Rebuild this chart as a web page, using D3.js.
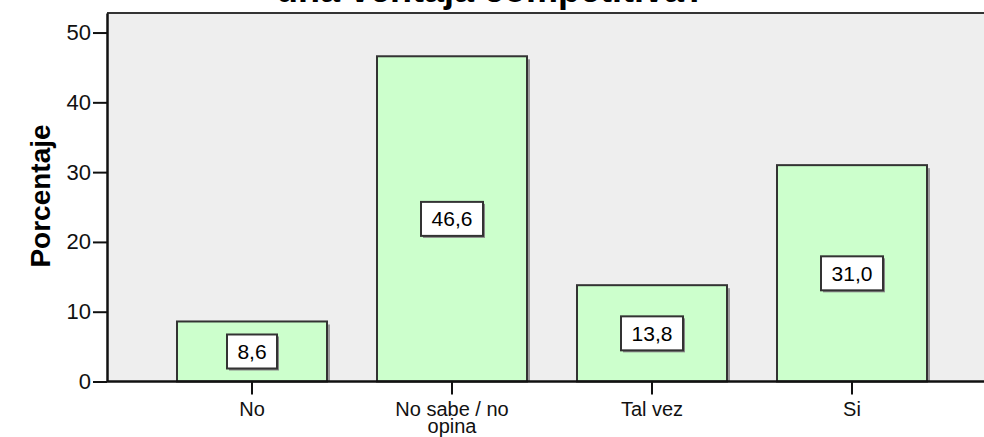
<!DOCTYPE html>
<html>
<head>
<meta charset="utf-8">
<script src="https://cdn.jsdelivr.net/npm/d3@7"></script>
<style>
  body { margin: 0; background: #fff; }
  text { font-family: "Liberation Sans", Arial, sans-serif; }
</style>
</head>
<body>
<div id="chart"></div>
<script>
// data
const categories = ["No", "No sabe / no opina", "Tal vez", "Si"];
const percentages = [8.6, 46.6, 13.8, 31.0];
const yTicks = [0, 10, 20, 30, 40, 50];

const width = 984, height = 437;
const plotLeft = 107, plotTop = 13, plotBottom = 381.5;

const svg = d3.select("#chart").append("svg")
    .attr("width", width)
    .attr("height", height);

const x = d3.scaleBand()
    .domain(categories)
    .range([152, 952])
    .paddingInner(0.25)
    .paddingOuter(0.125);

const y = d3.scaleLinear()
    .domain([0, 52.8])
    .range([plotBottom, plotTop]);

// title, mostly cut off at the top
svg.append("text")
    .attr("x", 491)
    .attr("y", 1.5)
    .attr("text-anchor", "middle")
    .attr("font-size", 36)
    .attr("font-weight", "bold")
    .text("una ventaja competitiva?");

// plot background
svg.append("rect")
    .attr("x", plotLeft)
    .attr("y", plotTop)
    .attr("width", width - plotLeft + 10)
    .attr("height", plotBottom - plotTop)
    .attr("fill", "#eeeeee");

svg.append("line")
    .attr("x1", plotLeft).attr("x2", width)
    .attr("y1", plotTop).attr("y2", plotTop)
    .attr("stroke", "#333").attr("stroke-width", 2);

// bar shadows
svg.selectAll(".shadow")
    .data(percentages)
    .join("rect")
    .attr("class", "shadow")
    .attr("x", (d, i) => x(categories[i]) + 3)
    .attr("y", d => y(d) + 3)
    .attr("width", x.bandwidth())
    .attr("height", d => y(0) - y(d) - 3)
    .attr("fill", "#999");

// bars
svg.selectAll(".bar")
    .data(percentages)
    .join("rect")
    .attr("class", "bar")
    .attr("x", (d, i) => x(categories[i]))
    .attr("y", d => y(d))
    .attr("width", x.bandwidth())
    .attr("height", d => y(0) - y(d))
    .attr("fill", "#ccffcc")
    .attr("stroke", "#333")
    .attr("stroke-width", 2);

// value labels in boxes
const fmt = d => d.toFixed(1).replace(".", ",");
const labels = svg.selectAll(".vlabel")
    .data(percentages)
    .join("g")
    .attr("class", "vlabel")
    .attr("transform", (d, i) => `translate(${x(categories[i]) + x.bandwidth() / 2},${(y(d) + y(0)) / 2})`);

labels.each(function (d) {
    const g = d3.select(this);
    const w = fmt(d).length * 12 + 14;
    g.append("rect")
        .attr("x", -w / 2 + 2).attr("y", -17 + 2)
        .attr("width", w).attr("height", 34)
        .attr("fill", "#888");
    g.append("rect")
        .attr("x", -w / 2).attr("y", -17)
        .attr("width", w).attr("height", 34)
        .attr("fill", "#fff")
        .attr("stroke", "#333")
        .attr("stroke-width", 2);
    g.append("text")
        .attr("text-anchor", "middle")
        .attr("dy", "0.36em")
        .attr("font-size", 21)
        .text(fmt(d));
});

// y axis
const yAxis = svg.append("g")
    .attr("transform", `translate(${plotLeft},0)`)
    .call(d3.axisLeft(y).tickValues(yTicks).tickSize(14).tickSizeOuter(0).tickPadding(2).tickFormat(d3.format("d")));
yAxis.select(".domain").attr("stroke", "#111").attr("stroke-width", 2.5);
yAxis.selectAll(".tick line").attr("stroke", "#111").attr("stroke-width", 2);
yAxis.selectAll(".tick text")
    .attr("font-size", 22)
    .attr("fill", "#111")
    .style("font-family", "'Liberation Sans', Arial, sans-serif");

// x axis
const xAxis = svg.append("g")
    .attr("transform", `translate(0,${plotBottom})`)
    .call(d3.axisBottom(x).tickSize(13).tickFormat(""));
xAxis.select(".domain").attr("d", `M${plotLeft},0H${width}`)
    .attr("stroke", "#111").attr("stroke-width", 2.5);
xAxis.selectAll(".tick line").attr("stroke", "#111").attr("stroke-width", 2);

// x labels, wrapped like the original
const xLines = {
    "No": ["No"],
    "No sabe / no opina": ["No sabe / no", "opina"],
    "Tal vez": ["Tal vez"],
    "Si": ["Si"]
};
categories.forEach(c => {
    const t = svg.append("text")
        .attr("x", x(c) + x.bandwidth() / 2)
        .attr("y", 416)
        .attr("text-anchor", "middle")
        .attr("font-size", 20)
        .attr("fill", "#111");
    xLines[c].forEach((line, i) => {
        t.append("tspan")
            .attr("x", x(c) + x.bandwidth() / 2)
            .attr("dy", i === 0 ? 0 : 17)
            .text(line);
    });
});

// y title
svg.append("text")
    .attr("transform", "translate(40,196) rotate(-90)")
    .attr("text-anchor", "middle")
    .attr("dy", "0.35em")
    .attr("font-size", 28)
    .attr("font-weight", "bold")
    .text("Porcentaje");
</script>
</body>
</html>
